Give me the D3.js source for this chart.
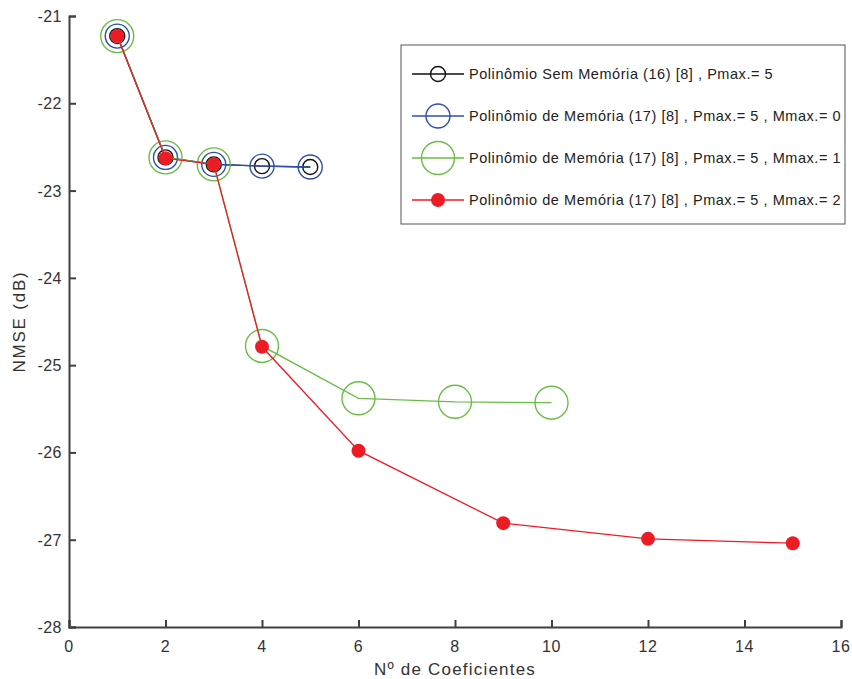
<!DOCTYPE html>
<html>
<head>
<meta charset="utf-8">
<script src="https://cdn.jsdelivr.net/npm/d3@7"></script>
<style>
  body { margin: 0; background: #fff; }
  text { font-family: "Liberation Sans", Arial, sans-serif; }
</style>
</head>
<body>
<svg id="chart" width="852" height="679"></svg>
<script>
// data
const semMemX = [1, 2, 3, 4, 5];
const semMemY = [-21.23, -22.62, -22.70, -22.72, -22.73];

const mem0X = [1, 2, 3, 4, 5];
const mem0Y = [-21.23, -22.62, -22.70, -22.72, -22.73];

const mem1X = [1, 2, 3, 4, 6, 8, 10];
const mem1Y = [-21.23, -22.62, -22.70, -24.78, -25.38, -25.42, -25.43];

const mem2X = [1, 2, 3, 4, 6, 9, 12, 15];
const mem2Y = [-21.23, -22.63, -22.70, -24.79, -25.98, -26.81, -26.99, -27.04];

const xTicks = [0, 2, 4, 6, 8, 10, 12, 14, 16];
const yTicks = [-28, -27, -26, -25, -24, -23, -22, -21];

const seriesNames = [
  "Polinômio Sem Memória (16) [8] , Pmax.= 5",
  "Polinômio de Memória (17) [8] , Pmax.= 5 , Mmax.= 0",
  "Polinômio de Memória (17) [8] , Pmax.= 5 , Mmax.= 1",
  "Polinômio de Memória (17) [8] , Pmax.= 5 , Mmax.= 2"
];

const series = [
  { name: seriesNames[0], xs: semMemX, ys: semMemY, color: "#111111", r: 7.5, fill: "none" },
  { name: seriesNames[1], xs: mem0X, ys: mem0Y, color: "#2f4fae", r: 12, fill: "none" },
  { name: seriesNames[2], xs: mem1X, ys: mem1Y, color: "#6abd45", r: 16.5, fill: "none" },
  { name: seriesNames[3], xs: mem2X, ys: mem2Y, color: "#ed1c24", r: 7, fill: "#ed1c24" }
];

const margin = { left: 69, right: 11, top: 16, bottom: 52 };
const W = 852, H = 679;
const svg = d3.select("#chart");

const x = d3.scaleLinear().domain([0, 16]).range([margin.left, W - margin.right]);
const y = d3.scaleLinear().domain([-28, -21]).range([H - margin.bottom, margin.top]);

const axisColor = "#404040";

// axes
const gx = svg.append("g")
  .attr("transform", `translate(0,${y(-28)})`)
  .call(d3.axisTop(x).tickValues(xTicks).tickSize(7).tickFormat(""));
gx.select(".domain").attr("stroke", axisColor).attr("stroke-width", 2);
gx.selectAll(".tick line").attr("stroke", axisColor).attr("stroke-width", 2);

svg.append("g").selectAll("text")
  .data(xTicks)
  .enter()
  .append("text")
  .attr("x", (d) => x(d))
  .attr("y", y(-28) + 25)
  .attr("text-anchor", "middle")
  .attr("fill", "#333")
  .attr("font-size", "16px")
  .attr("letter-spacing", "0.5px")
  .text((d) => d);

const gy = svg.append("g")
  .attr("transform", `translate(${x(0)},0)`)
  .call(d3.axisRight(y).tickValues(yTicks).tickSize(7).tickFormat(""));
gy.select(".domain").attr("stroke", axisColor).attr("stroke-width", 2);
gy.selectAll(".tick line").attr("stroke", axisColor).attr("stroke-width", 2);

svg.append("g").selectAll("text")
  .data(yTicks)
  .enter()
  .append("text")
  .attr("x", x(0) - 7)
  .attr("y", (d) => y(d) + 6)
  .attr("text-anchor", "end")
  .attr("fill", "#333")
  .attr("font-size", "16px")
  .attr("letter-spacing", "0.5px")
  .text((d) => d);

svg.append("text")
  .attr("x", (x(0) + x(16)) / 2)
  .attr("y", 675)
  .attr("text-anchor", "middle")
  .attr("fill", "#333")
  .attr("font-size", "17px")
  .attr("letter-spacing", "1.2px")
  .text("Nº de Coeficientes");

svg.append("text")
  .attr("transform", `translate(25,${(y(-21) + y(-28)) / 2}) rotate(-90)`)
  .attr("text-anchor", "middle")
  .attr("fill", "#333")
  .attr("font-size", "17px")
  .attr("letter-spacing", "1.8px")
  .text("NMSE (dB)");

// series
const line = d3.line().x((d) => x(d[0])).y((d) => y(d[1]));

series.forEach((s) => {
  const pts = s.xs.map((v, i) => [v, s.ys[i]]);
  const g = svg.append("g");
  g.append("path")
    .attr("d", line(pts))
    .attr("fill", "none")
    .attr("stroke", s.color)
    .attr("stroke-width", 1.3);
  g.selectAll("circle")
    .data(pts)
    .enter()
    .append("circle")
    .attr("cx", (d) => x(d[0]))
    .attr("cy", (d) => y(d[1]))
    .attr("r", s.r)
    .attr("fill", s.fill)
    .attr("stroke", s.color)
    .attr("stroke-width", s.fill === "none" ? 1.4 : 0);
});

// legend
const lg = svg.append("g").attr("transform", "translate(401,45)");
lg.append("rect")
  .attr("width", 444)
  .attr("height", 179)
  .attr("fill", "#fff")
  .attr("stroke", "#555")
  .attr("stroke-width", 1);

series.forEach((s, i) => {
  const cy = 29 + i * 42;
  lg.append("line")
    .attr("x1", 11).attr("x2", 63)
    .attr("y1", cy).attr("y2", cy)
    .attr("stroke", s.color)
    .attr("stroke-width", 1.3);
  lg.append("circle")
    .attr("cx", 37).attr("cy", cy)
    .attr("r", s.r)
    .attr("fill", s.fill)
    .attr("stroke", s.color)
    .attr("stroke-width", s.fill === "none" ? 1.4 : 0);
  lg.append("text")
    .attr("x", 68)
    .attr("y", cy + 5)
    .attr("fill", "#222")
    .attr("font-size", "14.5px")
    .attr("letter-spacing", "0.55px")
    .text(s.name);
});
</script>
</body>
</html>
